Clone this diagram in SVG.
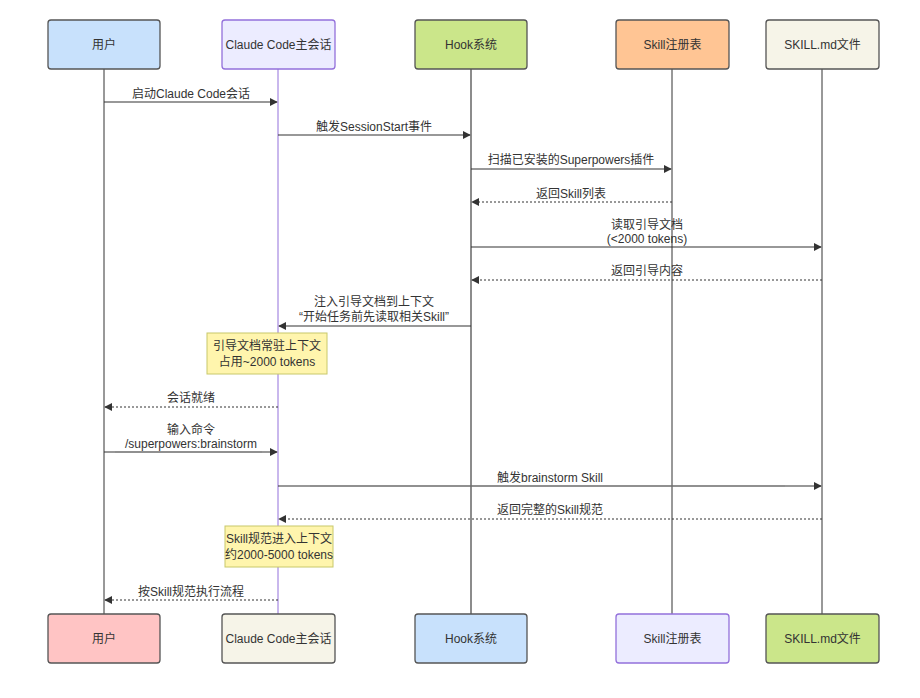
<svg xmlns="http://www.w3.org/2000/svg" width="920" height="698" viewBox="0 0 920 698">
<style>
text{font-family:"Liberation Sans","Noto Sans CJK SC",sans-serif;font-size:12px;fill:#333;text-anchor:middle}
.actor{stroke:#555;stroke-width:1.3}
.msg{stroke:#333;stroke-width:1.2;fill:none}
.dot{stroke:#333;stroke-width:1;stroke-dasharray:2,2;fill:none}
.note{fill:#fff5ad;stroke:#c8c86a;stroke-width:1}
.mid{stroke:#888;stroke-width:1.2}
</style>
<defs>
<marker id="ah" viewBox="0 0 10 10" refX="9" refY="5" markerWidth="8" markerHeight="8" orient="auto-start-reverse" markerUnits="userSpaceOnUse">
<path d="M0,0 L10,5 L0,10 z" fill="#333"/>
</marker>
</defs>
<rect width="920" height="698" fill="#fff"/>
<g id="lifelines">
<line x1="104" y1="69" x2="104" y2="614" stroke="#333" stroke-width="1"/>
<line x1="278" y1="69" x2="278" y2="614" stroke="#9370DB" stroke-width="1"/>
<line x1="471" y1="69" x2="471" y2="614" stroke="#666" stroke-width="1.5"/>
<line x1="672" y1="69" x2="672" y2="614" stroke="#333" stroke-width="1"/>
<line x1="822" y1="69" x2="822" y2="614" stroke="#333" stroke-width="1"/>
</g>
<g id="actor-user-top"><rect class="actor" x="48" y="20" width="112" height="49" rx="3" fill="#c8e1fc"/><text x="104" y="49">用户</text></g>
<g id="actor-claude-top"><rect class="actor" x="222" y="20" width="113" height="49" rx="3" fill="#ececff" stroke="#9370DB" style="stroke:#9370DB"/><text x="278.5" y="49">Claude Code主会话</text></g>
<g id="actor-hook-top"><rect class="actor" x="415" y="20" width="112" height="49" rx="3" fill="#cbe68a"/><text x="471" y="49">Hook系统</text></g>
<g id="actor-skill-top"><rect class="actor" x="616" y="20" width="113" height="49" rx="3" fill="#ffc594"/><text x="672.5" y="49">Skill注册表</text></g>
<g id="actor-md-top"><rect class="actor" x="766" y="20" width="113" height="49" rx="3" fill="#f6f4e8"/><text x="822.5" y="49">SKILL.md文件</text></g>
<g id="actor-user-bottom"><rect class="actor" x="48" y="614" width="112" height="49" rx="3" fill="#ffc4c4"/><text x="104" y="643">用户</text></g>
<g id="actor-claude-bottom"><rect class="actor" x="222" y="614" width="113" height="49" rx="3" fill="#f6f4e8"/><text x="278.5" y="643">Claude Code主会话</text></g>
<g id="actor-hook-bottom"><rect class="actor" x="415" y="614" width="112" height="49" rx="3" fill="#c8e1fc"/><text x="471" y="643">Hook系统</text></g>
<g id="actor-skill-bottom"><rect class="actor" x="616" y="614" width="113" height="49" rx="3" fill="#ececff" style="stroke:#9370DB"/><text x="672.5" y="643">Skill注册表</text></g>
<g id="actor-md-bottom"><rect class="actor" x="766" y="614" width="113" height="49" rx="3" fill="#cbe68a"/><text x="822.5" y="643">SKILL.md文件</text></g>
<g id="notes">
<g id="note1"><rect class="note" x="207" y="333" width="120" height="41"/><text x="267" y="350">引导文档常驻上下文</text><text x="267" y="366">占用~2000 tokens</text></g>
<g id="note2"><rect class="note" x="225" y="526" width="108" height="41"/><text x="279" y="543">Skill规范进入上下文</text><text x="279" y="559">约2000-5000 tokens</text></g>
</g>
<g id="connectors">
<line class="msg" x1="104" y1="102" x2="277" y2="102" marker-end="url(#ah)"/>
<text x="191" y="98">启动Claude Code会话</text>
<line class="msg" x1="278" y1="135" x2="470" y2="135" marker-end="url(#ah)"/>
<text x="374" y="131">触发SessionStart事件</text>
<line class="msg" x1="471" y1="169" x2="671" y2="169" marker-end="url(#ah)"/>
<text x="571" y="164">扫描已安装的Superpowers插件</text>
<line class="dot" x1="672" y1="202" x2="472" y2="202" marker-end="url(#ah)"/>
<text x="571" y="198">返回Skill列表</text>
<line class="msg" x1="471" y1="247" x2="821" y2="247" marker-end="url(#ah)"/>
<text x="647" y="229">读取引导文档</text>
<text x="647" y="243">(&lt;2000 tokens)</text>
<line class="dot" x1="822" y1="280" x2="472" y2="280" marker-end="url(#ah)"/>
<text x="647" y="275">返回引导内容</text>
<line class="msg" x1="471" y1="326" x2="279" y2="326" marker-end="url(#ah)"/>
<text x="374" y="306">注入引导文档到上下文</text>
<text x="374" y="321">“开始任务前先读取相关Skill”</text>
<line class="dot" x1="278" y1="407" x2="105" y2="407" marker-end="url(#ah)"/>
<text x="191" y="402">会话就绪</text>
<line class="msg" x1="104" y1="452" x2="277" y2="452" marker-end="url(#ah)"/>
<line class="mid" x1="115" y1="452" x2="262" y2="452"/>
<text x="191" y="434">输入命令</text>
<text x="191" y="448">/superpowers:brainstorm</text>
<line class="msg" x1="278" y1="486" x2="821" y2="486" marker-end="url(#ah)"/>
<line class="mid" x1="310" y1="486" x2="785" y2="486"/>
<text x="550" y="482">触发brainstorm Skill</text>
<line class="dot" x1="822" y1="519" x2="279" y2="519" marker-end="url(#ah)"/>
<text x="550" y="514">返回完整的Skill规范</text>
<line class="dot" x1="278" y1="600" x2="105" y2="600" marker-end="url(#ah)"/>
<text x="191" y="596">按Skill规范执行流程</text>
</g>
</svg>
